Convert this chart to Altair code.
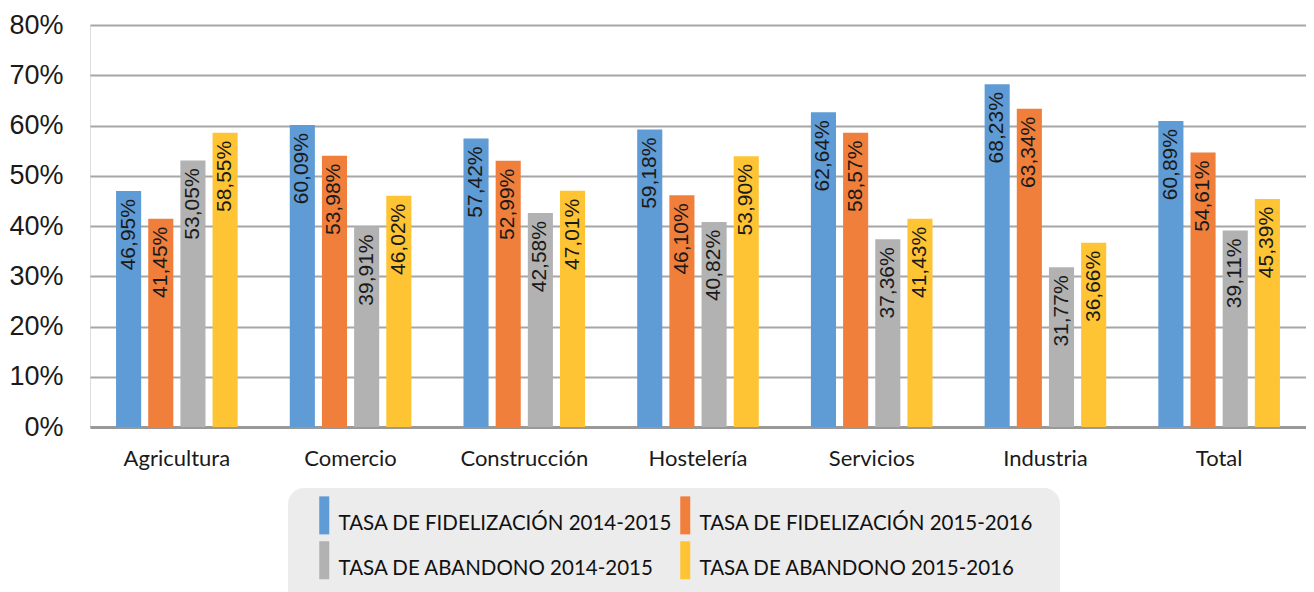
import altair as alt
import pandas as pd

categories = ["Agricultura", "Comercio", "Construcción", "Hostelería", "Servicios", "Industria", "Total"]
series_names = [
    "TASA DE FIDELIZACIÓN 2014-2015",
    "TASA DE FIDELIZACIÓN 2015-2016",
    "TASA DE ABANDONO 2014-2015",
    "TASA DE ABANDONO 2015-2016",
]
fid_1415 = [46.95, 60.09, 57.42, 59.18, 62.64, 68.23, 60.89]
fid_1516 = [41.45, 53.98, 52.99, 46.10, 58.57, 63.34, 54.61]
aban_1415 = [53.05, 39.91, 42.58, 40.82, 37.36, 31.77, 39.11]
aban_1516 = [58.55, 46.02, 47.01, 53.90, 41.43, 36.66, 45.39]
colors = ["#5f9bd5", "#f07f3c", "#b2b2b2", "#fec434"]

rows = []
for name, vals in zip(series_names, [fid_1415, fid_1516, aban_1415, aban_1516]):
    for cat, v in zip(categories, vals):
        rows.append({
            "cat": cat,
            "serie": name,
            "value": v / 100.0,
            "label": f"{v:.2f}".replace(".", ",") + "%",
        })
df = pd.DataFrame(rows)

x_enc = alt.X(
    "cat:N",
    sort=categories,
    scale=alt.Scale(paddingInner=0.3, paddingOuter=0.15),
    axis=alt.Axis(
        title=None, labelAngle=0, labelFont="Lato", labelFontSize=22,
        labelColor="#1a1a1a", labelPadding=21, ticks=False,
        domainColor="#999999", domainWidth=3, grid=False,
    ),
)
xoff = alt.XOffset("serie:N", sort=series_names, scale=alt.Scale(paddingInner=0.22, paddingOuter=0))
y_enc = alt.Y(
    "value:Q",
    scale=alt.Scale(domain=[0, 0.8], nice=False),
    axis=alt.Axis(
        title=None, format=".0%", values=[0, 0.1, 0.2, 0.3, 0.4, 0.5, 0.6, 0.7, 0.8],
        labelFont="Liberation Sans", labelFontSize=27, labelColor="#1a1a1a",
        labelPadding=27, ticks=False, domain=False,
        gridColor="#a6a6a6", gridWidth=2,
    ),
)

bars = alt.Chart(df).mark_bar().encode(
    x=x_enc,
    xOffset=xoff,
    y=y_enc,
    color=alt.Color(
        "serie:N",
        sort=series_names,
        scale=alt.Scale(domain=series_names, range=colors),
        legend=alt.Legend(
            title=None,
            orient="none",
            legendX=198,
            legendY=463,
            columns=2,
            direction="horizontal",
            fillColor="#ececec",
            cornerRadius=16,
            padding=26,
            symbolType="M-0.5,-2.8L0.5,-2.8L0.5,1L-0.5,1Z",
            symbolSize=400,
            symbolStrokeWidth=0,
            symbolOpacity=1,
            labelFont="Lato",
            labelFontSize=20.5,
            labelColor="#111111",
            labelOffset=4,
            labelLimit=600,
            rowPadding=6,
            columnPadding=2,
        ),
    ),
)

labels = alt.Chart(df).mark_text(
    angle=270, align="right", baseline="middle", dx=-8,
    font="Liberation Sans", fontSize=21, color="#1a1a1a",
).encode(
    x=alt.X("cat:N", sort=categories),
    xOffset=alt.XOffset("serie:N", sort=series_names),
    y=alt.Y("value:Q"),
    text="label:N",
)

chart = (
    alt.layer(bars, labels)
    .properties(width=1216, height=402, padding={"left": 0, "top": 3, "right": 0, "bottom": 0})
    .configure_view(stroke=None)
    .configure(background="white")
)

chart.save("out.html", embed_options={"renderer": "svg", "actions": False})
